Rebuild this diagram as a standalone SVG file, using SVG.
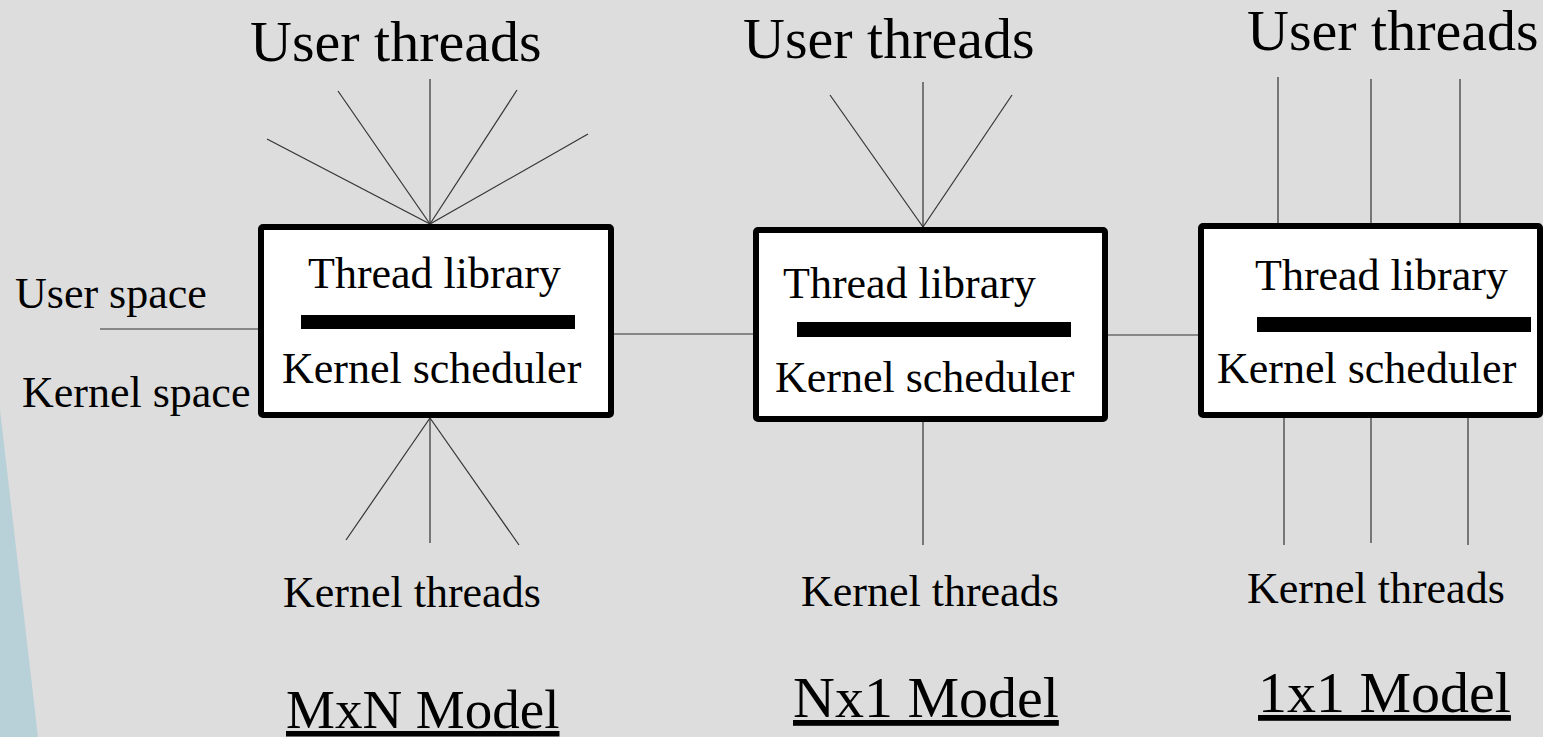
<svg xmlns="http://www.w3.org/2000/svg" width="1543" height="737" viewBox="0 0 1543 737">
<style>
text{font-family:"Liberation Serif","Times New Roman",serif;fill:#000}
.lbl{font-size:44px}
.big{font-size:58px}
.ln{stroke:#333;stroke-width:1.2;fill:none}
.box{fill:#fff;stroke:#000;stroke-width:6}
.bar{fill:#000}
</style>
<rect width="1543" height="737" fill="#dddddd"/>
<polygon points="0,410 38,737 0,737" fill="#b8d0d8"/>
<g id="connectors">
<line class="ln" x1="100" y1="329" x2="258" y2="329"/>
<line class="ln" x1="614" y1="334" x2="753" y2="334"/>
<line class="ln" x1="1108" y1="335" x2="1198" y2="335"/>
<line class="ln" x1="267" y1="139" x2="430" y2="224"/>
<line class="ln" x1="338" y1="91" x2="430" y2="224"/>
<line class="ln" x1="430" y1="79" x2="430" y2="224"/>
<line class="ln" x1="517" y1="90" x2="430" y2="224"/>
<line class="ln" x1="588" y1="134" x2="430" y2="224"/>
<line class="ln" x1="346" y1="540" x2="430" y2="418"/>
<line class="ln" x1="430" y1="543" x2="430" y2="418"/>
<line class="ln" x1="519" y1="545" x2="430" y2="418"/>
<line class="ln" x1="830" y1="95" x2="923" y2="227"/>
<line class="ln" x1="923" y1="82" x2="923" y2="227"/>
<line class="ln" x1="1012" y1="95" x2="923" y2="227"/>
<line class="ln" x1="923" y1="422" x2="923" y2="545"/>
<line class="ln" x1="1278" y1="77" x2="1278" y2="223"/>
<line class="ln" x1="1371" y1="79" x2="1371" y2="223"/>
<line class="ln" x1="1460" y1="79" x2="1460" y2="223"/>
<line class="ln" x1="1284" y1="418" x2="1284" y2="545"/>
<line class="ln" x1="1371" y1="418" x2="1371" y2="543"/>
<line class="ln" x1="1468" y1="418" x2="1468" y2="545"/>
</g>
<g id="mxn">
<rect class="box" x="261" y="227" width="350" height="188" rx="2"/>
<text class="lbl" x="308" y="288">Thread library</text>
<rect class="bar" x="301" y="315" width="274" height="14"/>
<text class="lbl" x="282" y="383">Kernel scheduler</text>
<text class="big" x="250" y="61">User threads</text>
<text class="lbl" x="283" y="607">Kernel threads</text>
<text x="286" y="728" font-size="55" text-decoration="underline">MxN Model</text>
</g>
<g id="nx1">
<rect class="box" x="756" y="230" width="349" height="189" rx="2"/>
<text class="lbl" x="783" y="298">Thread library</text>
<rect class="bar" x="797" y="322" width="274" height="15"/>
<text class="lbl" x="775" y="392">Kernel scheduler</text>
<text class="big" x="743" y="58">User threads</text>
<text class="lbl" x="801" y="606">Kernel threads</text>
<text class="big" x="793" y="717" text-decoration="underline">Nx1 Model</text>
</g>
<g id="onexone">
<rect class="box" x="1201" y="226" width="339" height="189" rx="2"/>
<text class="lbl" x="1255" y="290">Thread library</text>
<rect class="bar" x="1257" y="317" width="274" height="15"/>
<text class="lbl" x="1217" y="383">Kernel scheduler</text>
<text class="big" x="1247" y="50">User threads</text>
<text class="lbl" x="1247" y="603">Kernel threads</text>
<text class="big" x="1258" y="712" text-decoration="underline">1x1 Model</text>
</g>
<g id="space-labels">
<text class="lbl" x="15" y="308">User space</text>
<text class="lbl" x="22" y="407">Kernel space</text>
</g>
</svg>
